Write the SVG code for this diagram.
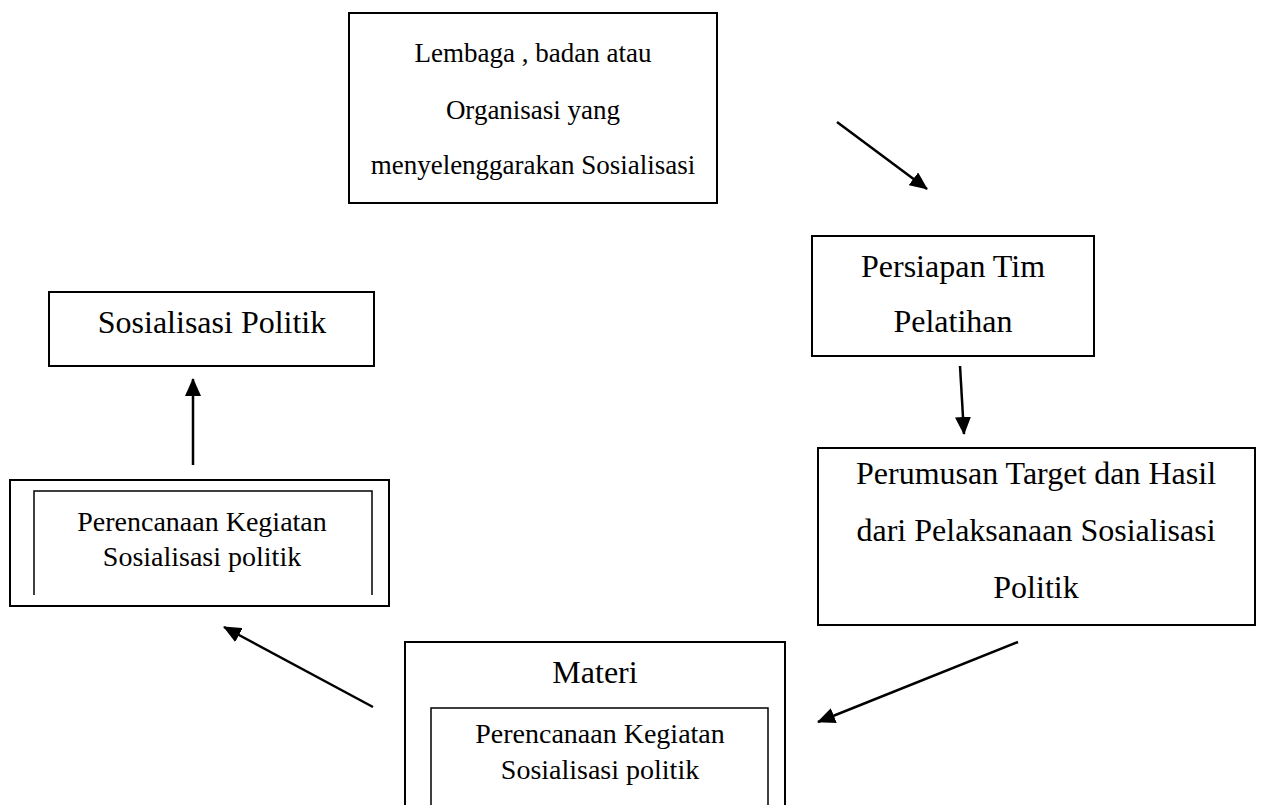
<svg xmlns="http://www.w3.org/2000/svg" width="1262" height="805" viewBox="0 0 1262 805">
<style>
.box{fill:#fff;stroke:#000;stroke-width:2}
.thin{fill:none;stroke:#000;stroke-width:1.5}
.t{font-family:"Liberation Serif","Times New Roman",serif;fill:#000;text-anchor:middle}
.big{font-size:32px}
.mid{font-size:27px}
.sm{font-size:28px}
.c{stroke:#000;stroke-width:2.5;fill:none;marker-end:url(#ah)}
</style>
<defs>
<marker id="ah" markerUnits="userSpaceOnUse" markerWidth="18" markerHeight="16" viewBox="0 0 18 16" refX="17" refY="8" orient="auto">
<path d="M0,0 L18,8 L0,16 Z" fill="#000"/>
</marker>
</defs>
<rect width="1262" height="805" fill="#fff"/>
<g id="lembaga">
<rect class="box" x="349" y="13" width="368" height="190"/>
<text class="t mid" x="533" y="62">Lembaga , badan atau</text>
<text class="t mid" x="533" y="119">Organisasi yang</text>
<text class="t mid" x="533" y="174">menyelenggarakan Sosialisasi</text>
</g>
<g id="persiapan">
<rect class="box" x="812" y="236" width="282" height="120"/>
<text class="t big" x="953" y="277">Persiapan Tim</text>
<text class="t big" x="953" y="332">Pelatihan</text>
</g>
<g id="perumusan">
<rect class="box" x="818" y="448" width="437" height="177"/>
<text class="t big" x="1036" y="484">Perumusan Target dan Hasil</text>
<text class="t big" x="1036" y="541">dari Pelaksanaan Sosialisasi</text>
<text class="t big" x="1036" y="598">Politik</text>
</g>
<g id="materi">
<path class="box" d="M405,806 V642 H785 V806" fill="none"/>
<text class="t big" x="595" y="683">Materi</text>
<path class="thin" d="M431,806 V708 H768 V806"/>
<text class="t sm" x="600" y="743">Perencanaan Kegiatan</text>
<text class="t sm" x="600" y="779">Sosialisasi politik</text>
</g>
<g id="perencanaan">
<rect class="box" x="10" y="480" width="379" height="126"/>
<path class="thin" d="M34,595 V491 H372 V595"/>
<text class="t sm" x="202" y="531">Perencanaan Kegiatan</text>
<text class="t sm" x="202" y="566">Sosialisasi politik</text>
</g>
<g id="sosialisasi">
<rect class="box" x="49" y="292" width="325" height="74"/>
<text class="t big" x="212" y="333">Sosialisasi Politik</text>
</g>
<g id="connectors">
<line class="c" x1="837" y1="122" x2="927" y2="189"/>
<line class="c" x1="960" y1="366" x2="964" y2="434"/>
<line class="c" x1="1018" y1="642" x2="818" y2="722"/>
<line class="c" x1="373" y1="707" x2="224" y2="627"/>
<line class="c" x1="193" y1="465" x2="193" y2="379"/>
</g>
</svg>
